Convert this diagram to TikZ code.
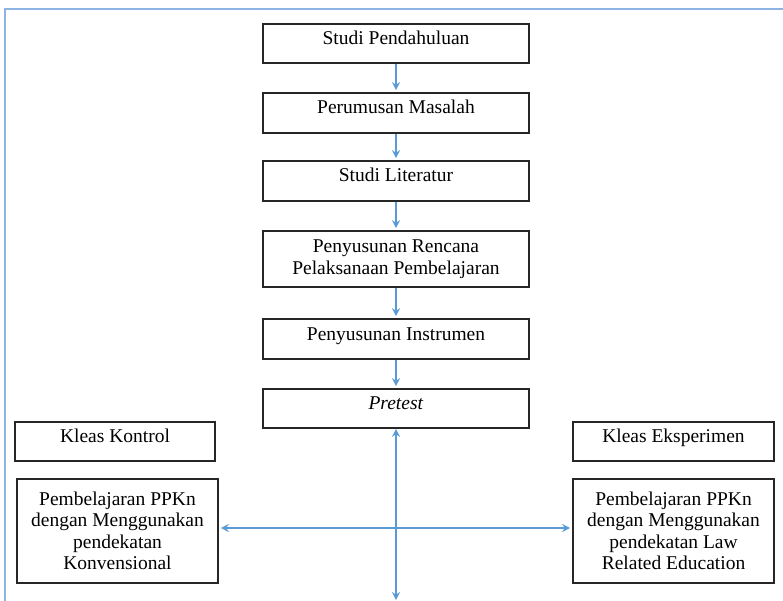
\documentclass[tikz,border=0pt]{standalone}
\usepackage{fontspec}
\setmainfont{Liberation Serif}
\usepackage{tikz}
\usetikzlibrary{arrows.meta}

\definecolor{garis}{HTML}{5B9BD5}
\definecolor{bingkai}{HTML}{8CB3E2}

\tikzset{
  kotak/.style={draw=black!85, line width=1.6pt, minimum width=266pt,
    minimum height=40pt, inner sep=0pt, align=center,
    font=\fontsize{19.5}{21.5}\selectfont},
  kelas/.style={kotak, minimum width=201pt},
  satu/.style={text height=14pt, text depth=12pt},
  panah/.style={garis, line width=1.5pt, -{Stealth[length=8pt,width=8pt]}},
  panahdua/.style={garis, line width=1.5pt,
    {Stealth[length=8pt,width=8pt]}-{Stealth[length=8pt,width=8pt]}}
}

\begin{document}
\begin{tikzpicture}[x=1pt,y=-1pt]

\path[use as bounding box, clip] (0,0) rectangle (783,601);

\draw[bingkai, line width=2.5pt] (5,9) rectangle (800,620); % bingkai

% alur tengah
\node[kotak, satu, minimum height=39pt] (studi) at (396,43.5) {Studi Pendahuluan};
\node[kotak, satu] (rumusan) at (396,113) {Perumusan Masalah};
\node[kotak, satu] (literatur) at (396,181) {Studi Literatur};
\node[kotak, minimum height=56pt] (rpp) at (396,259) {Penyusunan Rencana\\Pelaksanaan Pembelajaran};
\node[kotak, satu] (instrumen) at (396,339) {Penyusunan Instrumen};
\node[kotak, satu, minimum height=39pt] (pretest) at (396,408.5) {\textit{Pretest}};

% kelas kontrol
\node[kelas, satu, minimum height=39pt, minimum width=200pt] (kontrol) at (115,441.5) {Kleas Kontrol};
\node[kelas, minimum height=104pt] (konv) at (117.5,531) {Pembelajaran PPKn\\dengan Menggunakan\\pendekatan\\Konvensional};

% kelas eksperimen
\node[kelas, satu, minimum height=39pt] (eksp) at (673.5,441.5) {Kleas Eksperimen};
\node[kelas, minimum height=104pt] (lre) at (673.5,531) {Pembelajaran PPKn\\dengan Menggunakan\\pendekatan Law\\Related Education};

\coordinate (bawah) at (396,600);

\draw[panah, shorten >=2pt] (studi) -- (rumusan);
\draw[panah, shorten >=2pt] (rumusan) -- (literatur);
\draw[panah, shorten >=2pt] (literatur) -- (rpp);
\draw[panah, shorten >=2pt] (rpp) -- (instrumen);
\draw[panah, shorten >=2pt] (instrumen) -- (pretest);

\draw[panahdua] (bawah) -- (pretest);
\draw[panahdua, shorten <=2pt, shorten >=2pt] ([yshift=3pt]konv.east) -- ([yshift=3pt]lre.west);

\end{tikzpicture}
\end{document}
